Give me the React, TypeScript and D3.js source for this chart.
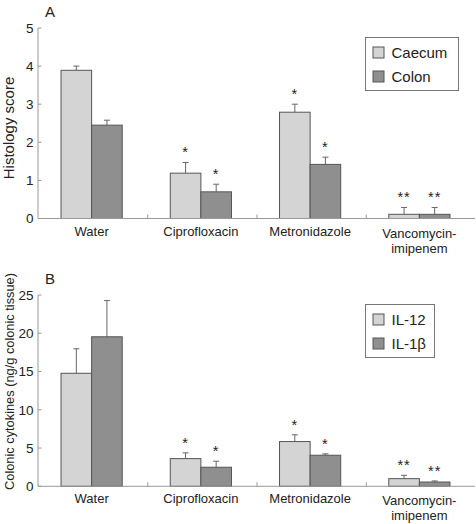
import React from "react";
import * as d3 from "d3";

const categories = ["Water", "Ciprofloxacin", "Metronidazole", "Vancomycin-\nimipenem"];

// Panel A
const caecum = [3.89, 1.19, 2.79, 0.11];
const caecumErr = [4.0, 1.47, 3.0, 0.29];
const colon = [2.45, 0.7, 1.42, 0.11];
const colonErr = [2.58, 0.9, 1.61, 0.29];
const caecumStars = ["", "*", "*", "**"];
const colonStars = ["", "*", "*", "**"];
const ticksA = [0, 1, 2, 3, 4, 5];

// Panel B
const il12 = [14.77, 3.62, 5.85, 1.0];
const il12Err = [17.97, 4.37, 6.73, 1.44];
const il1b = [19.54, 2.49, 4.06, 0.56];
const il1bErr = [24.27, 3.28, 4.24, 0.7];
const il12Stars = ["", "*", "*", "**"];
const il1bStars = ["", "*", "*", "**"];
const ticksB = [0, 5, 10, 15, 20, 25];

const FONT = "'Liberation Sans', Arial, sans-serif";
const LIGHT = "#d4d4d4";
const DARK = "#8f8f8f";
const BAR_STROKE = "#555";
const AXIS = "#999";

type PanelProps = {
  label: string;
  yLabel: string;
  yLabelSize: number;
  yLabelY: number;
  yMax: number;
  ticks: number[];
  yRange: [number, number];
  s1: number[];
  e1: number[];
  s2: number[];
  e2: number[];
  st1: string[];
  st2: string[];
  names: [string, string];
  legendBox: { x: number; y: number; w: number; h: number };
};

function Panel(p: PanelProps) {
  const x = d3.scaleBand<string>().domain(categories).range([38.5, 475.5]).paddingInner(0).paddingOuter(0);
  const y = d3.scaleLinear().domain([0, p.yMax]).range(p.yRange);
  const bw = 30.6;
  const axisX = 38;
  const y0 = y(0);
  const series = [
    { v: p.s1, e: p.e1, st: p.st1, fill: LIGHT, off: -bw },
    { v: p.s2, e: p.e2, st: p.st2, fill: DARK, off: 0 },
  ];
  return (
    <g>
      <text x={45} y={p.yRange[1] - 11} fontSize={15} fontFamily={FONT} fill="#222">
        {p.label}
      </text>
      <text
        transform={`translate(14,${p.yLabelY}) rotate(-90)`}
        textAnchor="middle"
        fontSize={p.yLabelSize}
        fontFamily={FONT}
        fill="#222"
      >
        {p.yLabel}
      </text>
      {/* y axis */}
      <line x1={axisX} x2={axisX} y1={y(p.yMax)} y2={y0} stroke={AXIS} strokeWidth={1} />
      {p.ticks.map((t) => (
        <g key={t}>
          <line x1={axisX} x2={axisX + 3.5} y1={y(t)} y2={y(t)} stroke={AXIS} />
          <text x={33.5} y={y(t)} dy="0.36em" textAnchor="end" fontSize={13.5} fontFamily={FONT} fill="#222">
            {t}
          </text>
        </g>
      ))}
      {/* bars */}
      {categories.map((c, i) => {
        const cx = (x(c) as number) + x.bandwidth() / 2 - 1.5;
        return (
          <g key={c}>
            {series.map((s, k) => {
              const bx = cx + s.off;
              const mx = bx + bw / 2;
              return (
                <g key={k}>
                  <line x1={mx} x2={mx} y1={y(s.v[i])} y2={y(s.e[i])} stroke="#666" />
                  <line x1={mx - 3} x2={mx + 3} y1={y(s.e[i])} y2={y(s.e[i])} stroke="#666" />
                  <rect
                    x={bx}
                    y={y(s.v[i])}
                    width={bw}
                    height={y0 - y(s.v[i])}
                    fill={s.fill}
                    stroke={BAR_STROKE}
                    strokeWidth={1}
                  />
                  {s.st[i] && (
                    <text
                      x={mx}
                      y={y(s.e[i]) - 5}
                      textAnchor="middle"
                      fontSize={14.5}
                      fontFamily={FONT}
                      fill="#222"
                      letterSpacing={1}
                    >
                      {s.st[i]}
                    </text>
                  )}
                </g>
              );
            })}
            {c.split("\n").map((ln, j) => (
              <text
                key={j}
                x={cx}
                y={y0 + (c.includes("\n") ? 19 : 17) + j * 15}
                textAnchor="middle"
                fontSize={13}
                fontFamily={FONT}
                fill="#222"
              >
                {ln}
              </text>
            ))}
          </g>
        );
      })}
      {/* x axis */}
      <line x1={axisX} x2={475} y1={y0} y2={y0} stroke={AXIS} strokeWidth={1} />
      {categories.slice(1).map((c) => (
        <line key={c} x1={x(c) as number} x2={x(c) as number} y1={y0} y2={y0 - 4} stroke={AXIS} />
      ))}
      {/* legend */}
      <rect
        x={p.legendBox.x}
        y={p.legendBox.y}
        width={p.legendBox.w}
        height={p.legendBox.h}
        fill="white"
        stroke="#777"
      />
      {p.names.map((n, k) => {
        const sy = p.legendBox.y + 9.5 + k * 24;
        return (
          <g key={n}>
            <rect x={p.legendBox.x + 7.5} y={sy} width={11} height={11} fill={k === 0 ? LIGHT : DARK} stroke={BAR_STROKE} />
            <text x={p.legendBox.x + 26} y={sy + 11} fontSize={15} fontFamily={FONT} fill="#222">
              {n}
            </text>
          </g>
        );
      })}
    </g>
  );
}

export default function App() {
  return (
    <svg width={476} height={524} style={{ position: "absolute", left: 0, top: 0, background: "white" }}>
      <Panel
        label="A"
        yLabel="Histology score"
        yLabelSize={15}
        yLabelY={128}
        yMax={5}
        ticks={ticksA}
        yRange={[218.5, 28]}
        s1={caecum}
        e1={caecumErr}
        s2={colon}
        e2={colonErr}
        st1={caecumStars}
        st2={colonStars}
        names={["Caecum", "Colon"]}
        legendBox={{ x: 365.5, y: 37.5, w: 93, h: 53 }}
      />
      <Panel
        label="B"
        yLabel="Colonic cytokines (ng/g colonic tissue)"
        yLabelSize={12.8}
        yLabelY={381.5}
        yMax={25}
        ticks={ticksB}
        yRange={[486.3, 295]}
        s1={il12}
        e1={il12Err}
        s2={il1b}
        e2={il1bErr}
        st1={il12Stars}
        st2={il1bStars}
        names={["IL-12", "IL-1β"]}
        legendBox={{ x: 365.5, y: 304.5, w: 69, h: 53 }}
      />
    </svg>
  );
}
